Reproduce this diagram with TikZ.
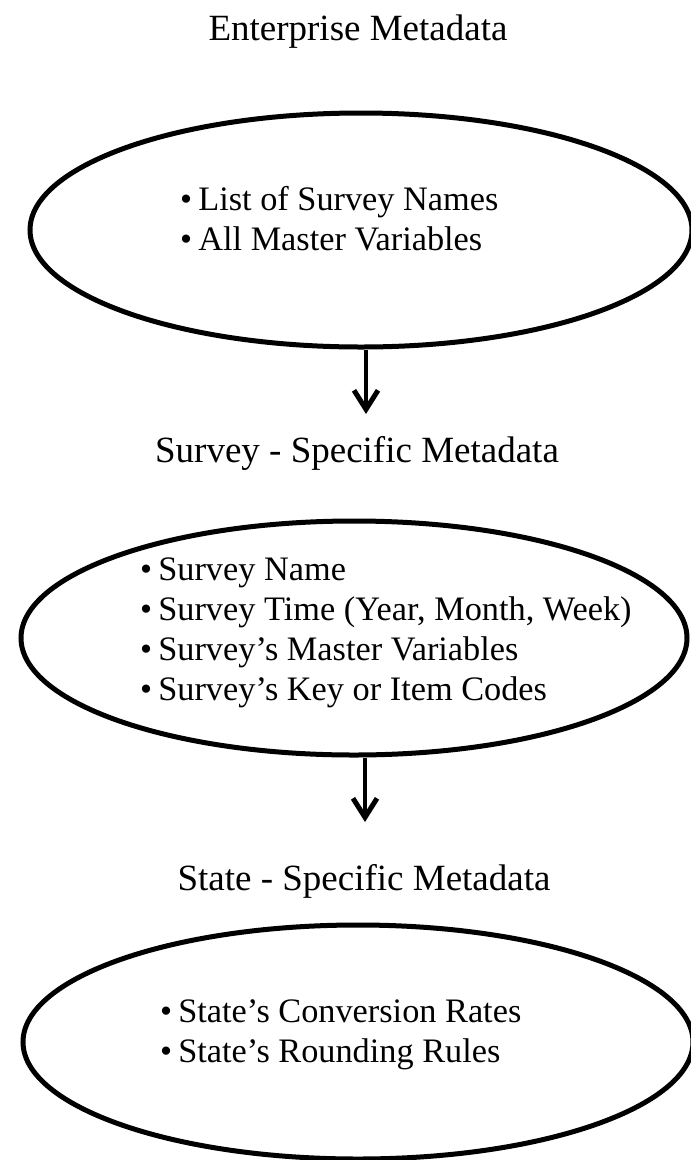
\documentclass[tikz,border=0pt]{standalone}
\usepackage{fontspec}
\setmainfont{Liberation Serif}
\usetikzlibrary{arrows.meta,shapes.geometric}
\begin{document}
\begin{tikzpicture}[x=1pt,y=-1pt,
  oval/.style={ellipse, draw, line width=5pt, inner sep=0pt},
  ttl/.style={font=\fontsize{37}{44}\selectfont, inner sep=0pt, anchor=base},
  items/.style={font=\fontsize{34.3}{40}\selectfont, inner sep=0pt, anchor=base west},
  flow/.style={line width=4pt, -{Straight Barb[length=19pt,width=24pt,line width=5pt]}}]
\useasboundingbox (0,0) rectangle (691,1160);
% level 1
\node[ttl] (t1) at (358,40) {Enterprise Metadata};
\node[oval, minimum width=662pt, minimum height=234pt] (e1) at (361,230) {};
\node[items] (l1) at (180,210) {\begin{tabular}[t]{@{}l@{}}•\hspace{0.18em}List of Survey Names\\•\hspace{0.18em}All Master Variables\end{tabular}};
\coordinate (a1) at (366,414);
\draw[flow] (a1 |- e1.south) -- (a1);
% level 2
\node[ttl] (t2) at (357,462) {Survey - Specific Metadata};
\node[oval, minimum width=666pt, minimum height=234pt] (e2) at (354,638) {};
\node[items] (l2) at (140,580) {\begin{tabular}[t]{@{}l@{}}•\hspace{0.18em}Survey Name\\•\hspace{0.18em}Survey Time (Year, Month, Week)\\•\hspace{0.18em}Survey’s Master Variables\\•\hspace{0.18em}Survey’s Key or Item Codes\end{tabular}};
\coordinate (a2) at (365,822);
\draw[flow] (a2 |- e2.south) -- (a2);
% level 3
\node[ttl] (t3) at (364,890) {State - Specific Metadata};
\node[oval, minimum width=670pt, minimum height=234pt] (e3) at (358,1042) {};
\node[items] (l3) at (160,1022) {\begin{tabular}[t]{@{}l@{}}•\hspace{0.18em}State’s Conversion Rates\\•\hspace{0.18em}State’s Rounding Rules\end{tabular}};
\end{tikzpicture}
\end{document}
